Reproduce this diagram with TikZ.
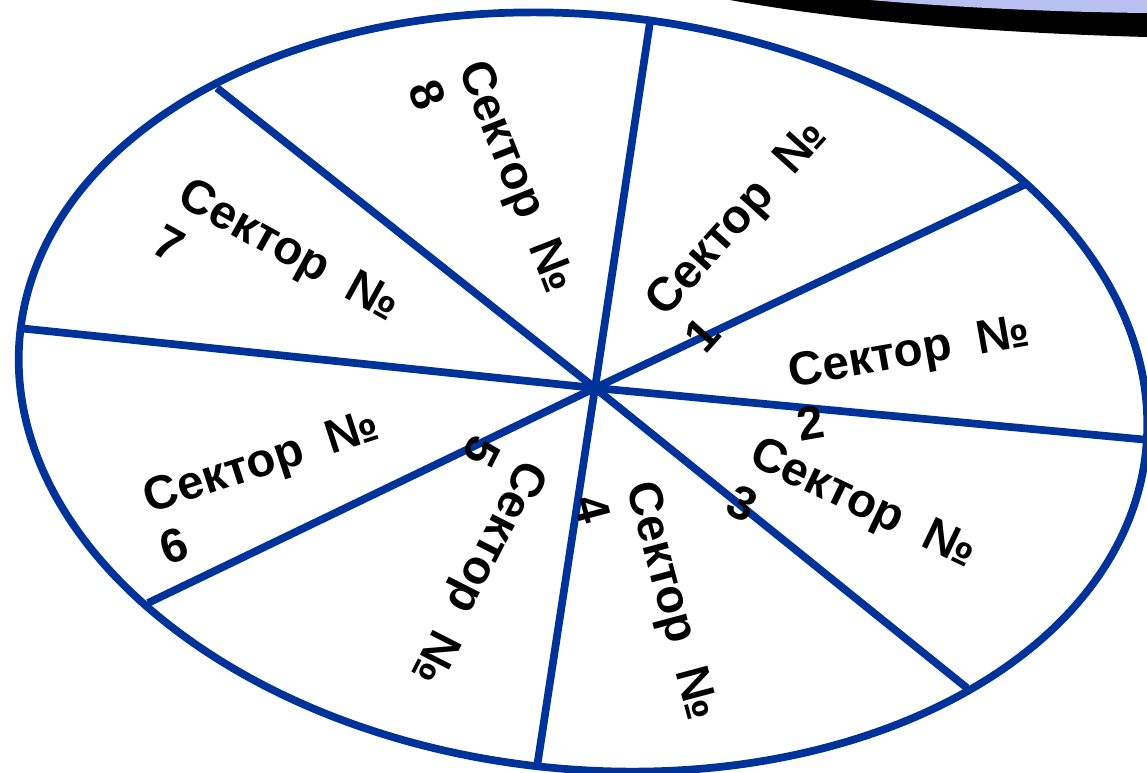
\documentclass[tikz,border=0pt]{standalone}
\usepackage{fontspec}
\setmainfont{Liberation Sans}
\definecolor{rimblue}{HTML}{003399}
\definecolor{capblue}{RGB}{184,192,242}
\begin{document}
\begin{tikzpicture}[x=0.02cm, y=-0.02cm,
    rim/.style={draw=rimblue, line width=4.4pt},
    spoke/.style={draw=rimblue, line width=4.4pt},
    sektor/.style={anchor=west, inner sep=0pt, align=left, font=\bfseries\fontsize{27}{31}\selectfont}
]
\useasboundingbox (0,0) rectangle (1147,772);
\clip (0,0) rectangle (1147,772);

\fill[black] (730,0) .. controls (850,22) and (1000,33) .. (1147,37) -- (1147,0) -- cycle;
\fill[capblue] (870,0) .. controls (950,7) and (1050,12) .. (1147,13) -- (1147,0) -- cycle;

\draw[rim, rotate around={-6:(583,392)}] (583,392) ellipse [x radius=566, y radius=377];

\coordinate (hub) at (595,388);
\coordinate (e1) at (650,22);
\coordinate (e2) at (1028,183);
\coordinate (e3) at (1149,440);
\coordinate (e4) at (967,688);
\coordinate (e5) at (537,767);
\coordinate (e6) at (148,603);
\coordinate (e7) at (18,328);
\coordinate (e8) at (217,88);

\draw[spoke] (hub) -- (e1);
\draw[spoke] (hub) -- (e2);
\draw[spoke] (hub) -- (e3);
\draw[spoke] (hub) -- (e4);
\draw[spoke] (hub) -- (e5);
\draw[spoke] (hub) -- (e6);
\draw[spoke] (hub) -- (e7);
\draw[spoke] (hub) -- (e8);

\node[sektor, rotate=48] (s1) at (673,326) {Сектор\ \ №\\1};
\node[sektor, rotate=10] (s2) at (793,398) {Сектор\ \ №\\2};
\node[sektor, rotate=-25.5] (s3) at (742,473) {Сектор\ \ №\\3};
\node[sektor, rotate=-75] (s4) at (616,489) {Сектор\ \ №\\4};
\node[sektor, rotate=-117] (s5) at (512,452) {Сектор\ \ №\\5};
\node[sektor, rotate=18] (s6) at (153,524) {Сектор\ \ №\\6};
\node[sektor, rotate=-29] (s7) at (170,213) {Сектор\ \ №\\7};
\node[sektor, rotate=-68.5] (s8) at (448,72) {Сектор\ \ №\\8};
\end{tikzpicture}
\end{document}
